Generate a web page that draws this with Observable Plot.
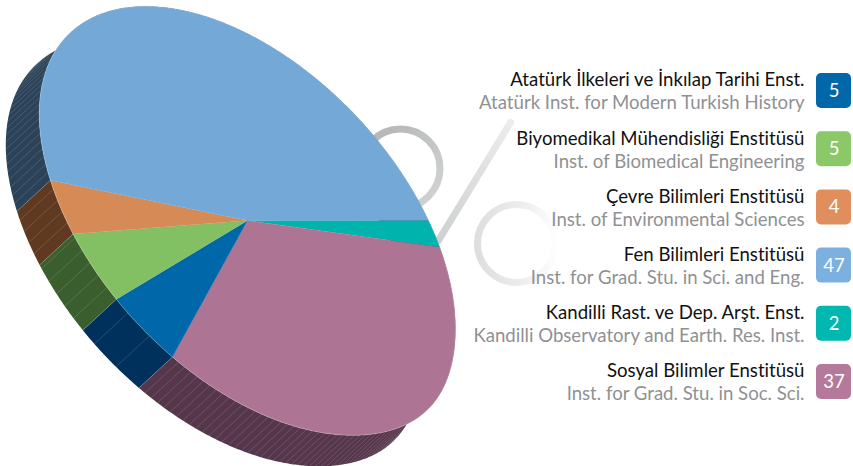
<!DOCTYPE html>
<html><head><meta charset="utf-8">
<style>html,body{margin:0;padding:0;background:#fff}svg{display:block}svg text{font-variant-ligatures:none;font-feature-settings:"liga" 0}</style>
<script src="https://cdn.jsdelivr.net/npm/d3@7"></script>
<script src="https://cdn.jsdelivr.net/npm/@observablehq/plot@0.6"></script>
</head><body><div id="chart"></div>
<script>
const names = ["Atatürk İlkeleri ve İnkılap Tarihi Enst.","Biyomedikal Mühendisliği Enstitüsü","Çevre Bilimleri Enstitüsü","Fen Bilimleri Enstitüsü","Kandilli Rast. ve Dep. Arşt. Enst.","Sosyal Bilimler Enstitüsü"];
const english = ["Atatürk Inst. for Modern Turkish History","Inst. of Biomedical Engineering","Inst. of Environmental Sciences","Inst. for Grad. Stu. in Sci. and Eng.","Kandilli Observatory and Earth. Res. Inst.","Inst. for Grad. Stu. in Soc. Sci."];
const values = [5,5,4,47,2,37];
const topColors = ["#0067a9","#83c063","#d68b57","#74a8d6","#00b3ad","#ae7494"];
const badgeColors = ["#0067a9","#8bc868","#e08f5c","#7cb0e0","#00b8b0","#b57a9b"];
const wallColors = ["#00315c","#3a5e2d","#603a20","#2b4258","#00555a","#55364b"];
const seamSteps = [7,3.4,3,2.2,3,1.8];
const pieOrder = [4,5,0,1,2,3];
const total = d3.sum(values);
const C = [247,220], A = [181,0], B = [101,214], off = [-33.5,31];
const P = deg => { const t = deg*Math.PI/180, c = Math.cos(t), s = Math.sin(t);
  const k = 1 + .016*Math.exp(-(((deg-60)/24)**2)) + .006*Math.exp(-(((deg-225)/30)**2));
  return [C[0]+k*(A[0]*c+B[0]*s), C[1]+k*(A[1]*c+B[1]*s)]; };
let cum = 0; const slices = pieOrder.map(i => { const a0 = cum; cum += values[i]/total*360; return {i,a0,a1:cum}; });
const arcPts = (s) => { const n = Math.ceil(s.a1-s.a0)*2, r=[]; for(let k=0;k<=n;k++) r.push(P(s.a0+(s.a1-s.a0)*k/n)); return r; };
const marks = [];
marks.push(() => { const ns="http://www.w3.org/2000/svg", d=document.createElementNS(ns,"defs");
  const g=(id,x1,y1,x2,y2,stops)=>{const e=document.createElementNS(ns,"linearGradient");e.id=id;
    e.setAttribute("gradientUnits","userSpaceOnUse");
    e.setAttribute("x1",x1);e.setAttribute("y1",y1);e.setAttribute("x2",x2);e.setAttribute("y2",y2);
    stops.forEach(([o,c])=>{const s=document.createElementNS(ns,"stop");s.setAttribute("offset",o);s.setAttribute("stop-color",c);e.appendChild(s)});d.appendChild(e)};
  g("ringA",370,130,440,200,[[0,"#b4b5b5"],[1,"#d2d3d3"]]);
  g("slash",510,122,438,240,[[0,"#ebecec"],[1,"#cfd0d0"]]);
  g("ringB",474,243,558,243,[[0,"#dcdddd"],[.6,"#eeeeee"],[1,"#ffffff"]]);
  return d; });
marks.push(Plot.dot([[400,168]],{x:d=>d[0],y:d=>d[1],r:39.5,fill:"none",stroke:"url(#ringA)",strokeWidth:7}));
marks.push(Plot.dot([[516,243]],{x:d=>d[0],y:d=>d[1],r:39,fill:"none",stroke:"url(#ringB)",strokeWidth:7}));
marks.push(Plot.line([[510,122],[438,240]],{x:d=>d[0],y:d=>d[1],stroke:"url(#slash)",strokeWidth:7,strokeLinecap:"round"}));
for (const s of slices) {
  const pts = arcPts(s);
  const poly = pts.concat(pts.slice().reverse().map(p=>[p[0]+off[0],p[1]+off[1]]));
  marks.push(Plot.line(poly,{x:d=>d[0],y:d=>d[1],fill:wallColors[s.i],stroke:"none",curve:"linear"}));
  const seams=[]; for(let a=s.a0;a<=s.a1;a+=seamSteps[s.i]) seams.push(P(a));
  marks.push(Plot.link(seams,{x1:d=>d[0],y1:d=>d[1],x2:d=>d[0]+off[0],y2:d=>d[1]+off[1],stroke:"#fff",strokeOpacity:.24,strokeWidth:.6}));
}
for (const s of slices) {
  const poly=[C,...arcPts(s)];
  marks.push(Plot.line(poly,{x:d=>d[0],y:d=>d[1],fill:topColors[s.i],stroke:topColors[s.i],strokeWidth:.3,curve:"linear"}));
  marks.push(Plot.line(arcPts(s),{x:d=>d[0],y:d=>d[1],stroke:"#fff",strokeOpacity:.3,strokeWidth:.7,curve:"linear"}));
}
const rows = names.map((n,i)=>({n,e:english[i],v:values[i],c:badgeColors[i],y:90.5+58.2*i}));
const F="Lato,sans-serif";
marks.push(Plot.text(rows,{x:()=>804,y:d=>d.y-10.5,text:"n",textAnchor:"end",fill:"#111",fontSize:18.6,fontFamily:F}));
marks.push(Plot.text(rows,{x:()=>804,y:d=>d.y+12.5,text:"e",textAnchor:"end",fill:"#8f9193",fontSize:18.6,fontFamily:F}));
marks.push(Plot.rect(rows,{x1:()=>816,x2:()=>851,y1:d=>d.y-17.5,y2:d=>d.y+17.5,fill:"c",rx:5}));
marks.push(Plot.text(rows,{x:()=>833.5,y:d=>d.y,text:"v",fill:"#fff",fontSize:18.5,fontFamily:F}));
const plot = Plot.plot({width:853,height:466,margin:0,x:{type:"identity",axis:null},y:{type:"identity",axis:null},color:{type:"identity"},style:{background:"#fff"},marks});
document.getElementById("chart").append(plot);
</script></body></html>
